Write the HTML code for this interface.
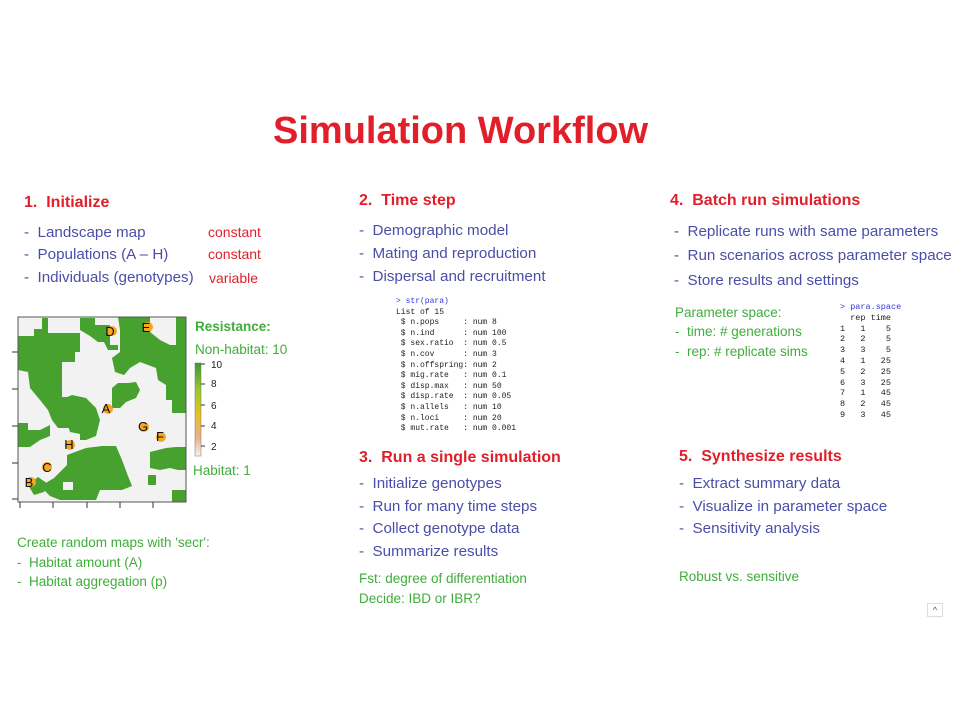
<!DOCTYPE html>
<html><head><meta charset="utf-8"><style>
body{margin:0;width:960px;height:720px;background:#fff;position:relative;overflow:hidden;font-family:"Liberation Sans",sans-serif}
.a{position:absolute;white-space:nowrap}
.t{color:#e01f2a;font-weight:bold;font-size:38px}
.h{color:#e01f2a;font-weight:bold;font-size:16px}
.b{color:#4b4ea8;font-size:15.2px}
.r{color:#e01f2a;font-size:14px}
.g{color:#3fae3a;font-size:13.5px}
.m{font-family:"Liberation Mono",monospace;font-size:8px;line-height:10.6px;color:#222;white-space:pre}
.mb{color:#3535e0}
</style></head><body>
<div class="a t" style="left:273px;top:110px">Simulation Workflow</div>

<div class="a h" style="left:24px;top:194px">1.&nbsp; Initialize</div>
<div class="a b" style="left:24px;top:224px">-&nbsp; Landscape map</div>
<div class="a b" style="left:24px;top:246px">-&nbsp; Populations (A – H)</div>
<div class="a b" style="left:24px;top:269px">-&nbsp; Individuals (genotypes)</div>
<div class="a r" style="left:208px;top:224px">constant</div>
<div class="a r" style="left:208px;top:246px">constant</div>
<div class="a r" style="left:209px;top:270px">variable</div>

<svg class="a" style="left:0;top:300px" width="300" height="215" viewBox="0 300 300 215">
<rect x="18" y="317" width="168" height="185" fill="#f2f2f2"/>
<g fill="#46a12e">
<polygon points="18,336 34,336 34,329 42,329 42,318 48,318 48,333 76,333 80,333 80,352 75,352 75,362 62,362 62,397 72,397 72,407 86,407 86,420 76,420 76,428 58,428 52,420 48,410 40,400 30,388 28,372 18,370"/>
<polygon points="80,318 95,318 95,325 110,325 110,345 118,345 118,350 108,350 104,342 98,342 90,336 80,330"/>
<polygon points="118,317 150,317 150,332 160,340 170,345 176,345 176,317 186,317 186,413 172,413 172,400 166,400 166,385 158,380 156,368 140,362 130,368 124,375 115,372 112,358 120,352 120,330"/>
<polygon points="112,388 118,383 128,383 136,382 140,390 136,398 126,402 120,408 112,408"/>
<polygon points="60,400 72,395 86,398 96,408 100,420 96,436 86,440 80,440 80,434 70,432"/>
<polygon points="67,455 86,448 102,446 116,446 122,460 128,476 132,486 122,490 110,490 100,490 96,500 70,500 60,500 50,496 44,490 44,484 54,478 62,470 67,465"/>
<polygon points="18,423 28,423 28,430 40,430 50,425 50,436 40,440 30,447 18,447"/>
<polygon points="150,452 166,448 176,447 186,447 186,470 178,470 170,468 160,470 150,468"/>
<polygon points="28,485 38,477 48,484 44,492 34,495"/>
<polygon points="172,490 186,490 186,502 172,502"/>
<polygon points="148,475 156,475 156,485 148,485"/>
</g>
<rect x="63" y="482" width="10" height="8" fill="#f2f2f2"/>
<rect x="18" y="317" width="168" height="185" fill="none" stroke="#555" stroke-width="1"/>
<g stroke="#333" stroke-width="1"><line x1="12" y1="352" x2="18" y2="352"/><line x1="12" y1="389" x2="18" y2="389"/><line x1="12" y1="426" x2="18" y2="426"/><line x1="12" y1="463" x2="18" y2="463"/><line x1="12" y1="499" x2="18" y2="499"/>
<line x1="20" y1="502" x2="20" y2="508"/><line x1="53" y1="502" x2="53" y2="508"/><line x1="87" y1="502" x2="87" y2="508"/><line x1="120" y1="502" x2="120" y2="508"/><line x1="153" y1="502" x2="153" y2="508"/></g>
<g fill="#f5a623"><circle cx="112" cy="331" r="5"/><circle cx="148" cy="327" r="5"/><circle cx="108" cy="409" r="5"/><circle cx="144" cy="427" r="5"/><circle cx="161" cy="437" r="5"/><circle cx="70" cy="445" r="5"/><circle cx="47" cy="467" r="5"/><circle cx="31" cy="482" r="5"/></g>
<g font-family="Liberation Sans,sans-serif" font-size="13" fill="#111" text-anchor="middle">
<text x="110" y="336">D</text><text x="146" y="332">E</text><text x="106" y="413">A</text><text x="143" y="431">G</text><text x="160" y="441">F</text><text x="69" y="449">H</text><text x="47" y="472">C</text><text x="29" y="487">B</text></g>
<defs><linearGradient id="cb" x1="0" y1="1" x2="0" y2="0"><stop offset="0" stop-color="#f6f0f0"/><stop offset="0.2" stop-color="#e8b088"/><stop offset="0.45" stop-color="#e8c020"/><stop offset="0.7" stop-color="#9cc830"/><stop offset="1" stop-color="#3a9a2a"/></linearGradient></defs>
<rect x="195" y="363" width="6" height="93" fill="url(#cb)" stroke="#777" stroke-width="0.5"/>
<g font-family="Liberation Sans,sans-serif" font-size="10" fill="#222"><text x="211" y="368">10</text><text x="211" y="387">8</text><text x="211" y="409">6</text><text x="211" y="429">4</text><text x="211" y="450">2</text></g>
<g stroke="#333"><line x1="201" y1="364" x2="205" y2="364"/><line x1="201" y1="384" x2="205" y2="384"/><line x1="201" y1="405" x2="205" y2="405"/><line x1="201" y1="426" x2="205" y2="426"/><line x1="201" y1="446" x2="205" y2="446"/></g>
</svg>
<div class="a g" style="left:195px;top:319px;font-weight:bold">Resistance:</div>
<div class="a g" style="left:195px;top:342px">Non-habitat: 10</div>
<div class="a g" style="left:193px;top:463px">Habitat: 1</div>
<div class="a g" style="left:17px;top:535px">Create random maps with 'secr':</div>
<div class="a g" style="left:17px;top:555px">-&nbsp; Habitat amount (A)</div>
<div class="a g" style="left:17px;top:574px">-&nbsp; Habitat aggregation (p)</div>

<div class="a h" style="left:359px;top:192px">2.&nbsp; Time step</div>
<div class="a b" style="left:359px;top:222px">-&nbsp; Demographic model</div>
<div class="a b" style="left:359px;top:245px">-&nbsp; Mating and reproduction</div>
<div class="a b" style="left:359px;top:268px">-&nbsp; Dispersal and recruitment</div>
<div class="a m" style="left:396px;top:297px"><span class="mb">&gt; str(para)</span>
List of 15
 $ n.pops     : num 8
 $ n.ind      : num 100
 $ sex.ratio  : num 0.5
 $ n.cov      : num 3
 $ n.offspring: num 2
 $ mig.rate   : num 0.1
 $ disp.max   : num 50
 $ disp.rate  : num 0.05
 $ n.allels   : num 10
 $ n.loci     : num 20
 $ mut.rate   : num 0.001</div>

<div class="a h" style="left:359px;top:449px">3.&nbsp; Run a single simulation</div>
<div class="a b" style="left:359px;top:475px">-&nbsp; Initialize genotypes</div>
<div class="a b" style="left:359px;top:498px">-&nbsp; Run for many time steps</div>
<div class="a b" style="left:359px;top:520px">-&nbsp; Collect genotype data</div>
<div class="a b" style="left:359px;top:543px">-&nbsp; Summarize results</div>
<div class="a g" style="left:359px;top:571px">Fst: degree of differentiation</div>
<div class="a g" style="left:359px;top:591px">Decide: IBD or IBR?</div>

<div class="a h" style="left:670px;top:192px">4.&nbsp; Batch run simulations</div>
<div class="a b" style="left:674px;top:223px">-&nbsp; Replicate runs with same parameters</div>
<div class="a b" style="left:674px;top:247px">-&nbsp; Run scenarios across parameter space</div>
<div class="a b" style="left:674px;top:272px">-&nbsp; Store results and settings</div>
<div class="a g" style="left:675px;top:305px">Parameter space:</div>
<div class="a g" style="left:675px;top:324px">-&nbsp; time: # generations</div>
<div class="a g" style="left:675px;top:344px">-&nbsp; rep: # replicate sims</div>
<div class="a m" style="left:840px;top:302px;font-size:8.5px;line-height:10.8px"><span class="mb">&gt; para.space</span>
  rep time
1   1    5
2   2    5
3   3    5
4   1   25
5   2   25
6   3   25
7   1   45
8   2   45
9   3   45</div>

<div class="a h" style="left:679px;top:448px">5.&nbsp; Synthesize results</div>
<div class="a b" style="left:679px;top:475px">-&nbsp; Extract summary data</div>
<div class="a b" style="left:679px;top:498px">-&nbsp; Visualize in parameter space</div>
<div class="a b" style="left:679px;top:520px">-&nbsp; Sensitivity analysis</div>
<div class="a g" style="left:679px;top:569px">Robust vs. sensitive</div>
<div class="a" style="left:927px;top:603px;width:14px;height:12px;border:1px solid #ddd;font-size:9px;text-align:center;color:#555;line-height:12px">^</div>
</body></html>
